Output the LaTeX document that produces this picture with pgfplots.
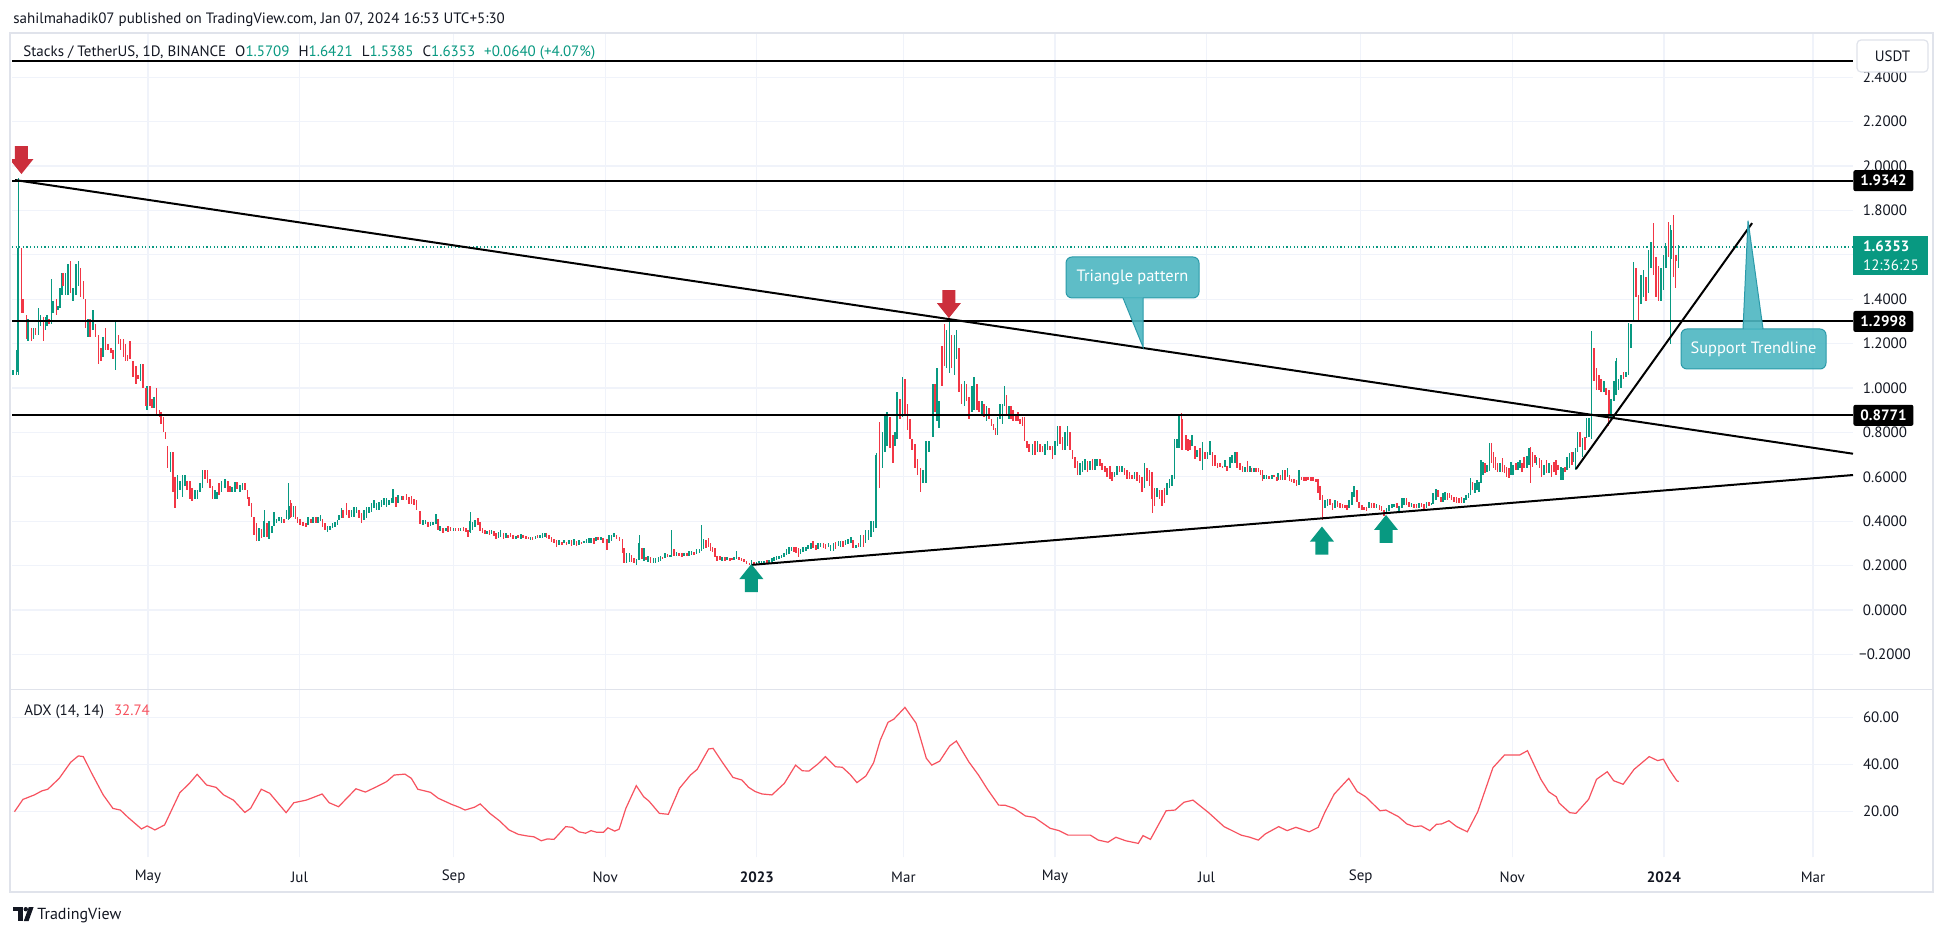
\documentclass[border=0pt]{standalone}
\usepackage{fontspec}
\setmainfont{PT Sans}
\usepackage{pgfplots}
\usepackage{pgfplotstable}
\pgfplotsset{compat=1.18}
\definecolor{tvgreen}{HTML}{089981}
\definecolor{tvred}{HTML}{F23645}
\definecolor{arrred}{HTML}{CC2F3C}
\definecolor{adxred}{HTML}{F7525F}
\definecolor{tvtext}{HTML}{131722}
\definecolor{gridc}{HTML}{F0F3FA}
\definecolor{framec}{HTML}{E0E3EB}
\definecolor{callfill}{HTML}{4DB6C2}
\definecolor{calldraw}{HTML}{2A9AA9}

\pgfplotstableread{
d o c
65.8 1.06 1.08
67.1 1.06 1.17
67.8 1.07 1.63
69.2 1.63 1.34
69.8 1.40 1.34
71.2 1.33 1.22
71.8 1.21 1.31
73.2 1.27 1.21
73.9 1.22 1.27
74.8 1.27 1.24
75.9 1.24 1.36
76.8 1.28 1.33
77.9 1.32 1.21
78.8 1.26 1.32
79.5 1.28 1.33
80.3 1.31 1.29
81.2 1.29 1.49
81.9 1.34 1.39
83.2 1.40 1.33
83.9 1.35 1.37
84.6 1.36 1.45
85.3 1.42 1.52
85.9 1.52 1.46
86.9 1.42 1.52
87.9 1.42 1.56
88.9 1.57 1.43
89.9 1.39 1.45
91.0 1.42 1.56
92.0 1.46 1.57
92.9 1.54 1.41
94.0 1.48 1.40
94.8 1.40 1.27
96.0 1.23 1.31
96.7 1.31 1.23
98.0 1.26 1.35
98.9 1.29 1.23
100.1 1.24 1.11
101.1 1.18 1.12
102.0 1.14 1.23
103.0 1.27 1.17
104.0 1.20 1.17
105.1 1.18 1.16
106.0 1.17 1.13
106.9 1.08 1.30
108.1 1.24 1.20
109.0 1.22 1.17
110.1 1.22 1.14
111.0 1.20 1.12
111.8 1.15 1.12
112.8 1.21 1.13
114.1 1.12 1.05
115.2 1.10 1.02
116.1 1.06 1.04
117.0 1.03 1.11
117.9 1.11 1.00
119.1 1.00 0.92
119.7 0.90 1.01
120.8 1.01 0.92
121.7 0.95 0.91
122.5 0.91 0.96
123.5 1.00 0.88
124.6 0.90 0.87
125.2 0.89 0.84
126.2 0.87 0.80
127.1 0.80 0.77
127.9 0.74 0.64
129.1 0.62 0.71
130.2 0.71 0.53
131.0 0.60 0.46
131.9 0.50 0.61
132.9 0.54 0.58
133.9 0.51 0.61
134.9 0.56 0.61
135.6 0.58 0.54
136.9 0.58 0.50
137.8 0.55 0.49
138.9 0.50 0.54
139.9 0.50 0.54
140.9 0.53 0.57
142.0 0.55 0.63
142.9 0.63 0.59
143.9 0.63 0.57
144.9 0.59 0.55
145.9 0.56 0.50
146.9 0.50 0.54
147.9 0.50 0.53
148.7 0.57 0.52
149.6 0.53 0.58
151.0 0.55 0.59
152.1 0.58 0.53
153.0 0.56 0.53
153.9 0.53 0.555
155.0 0.53 0.575
155.9 0.575 0.545
157.0 0.53 0.565
158.1 0.54 0.57
159.0 0.57 0.54
160.0 0.54 0.50
160.6 0.51 0.47
161.7 0.48 0.42
162.7 0.42 0.34
163.7 0.39 0.31
164.8 0.31 0.37
165.7 0.365 0.325
166.8 0.33 0.40
167.8 0.39 0.33
168.8 0.32 0.40
170.0 0.345 0.38
170.8 0.38 0.44
171.8 0.39 0.41
172.7 0.40 0.42
173.8 0.39 0.42
174.7 0.41 0.39
175.8 0.41 0.45
176.7 0.41 0.47
177.5 0.48 0.42
178.5 0.42 0.47
179.4 0.47 0.41
180.2 0.42 0.39
181.2 0.41 0.385
182.5 0.397 0.38
183.6 0.393 0.372
184.5 0.385 0.42
185.6 0.41 0.39
186.5 0.39 0.42
187.6 0.42 0.39
188.5 0.39 0.42
189.5 0.40 0.43
190.3 0.41 0.375
191.2 0.39 0.36
192.3 0.353 0.38
193.2 0.36 0.38
194.3 0.368 0.39
195.3 0.375 0.398
196.2 0.383 0.406
197.0 0.406 0.428
197.9 0.413 0.458
198.6 0.45 0.413
199.9 0.48 0.43
201.0 0.45 0.413
201.9 0.42 0.45
202.9 0.42 0.465
203.9 0.436 0.465
204.9 0.45 0.413
205.9 0.435 0.39
206.9 0.406 0.45
208.0 0.413 0.465
208.9 0.436 0.465
210.0 0.443 0.48
210.9 0.458 0.496
212.0 0.45 0.48
213.0 0.45 0.488
214.0 0.465 0.496
215.0 0.473 0.503
216.0 0.465 0.503
217.0 0.473 0.496
218.0 0.48 0.503
218.7 0.483 0.545
219.8 0.51 0.462
220.7 0.48 0.518
222.1 0.496 0.515
222.7 0.515 0.494
224.1 0.522 0.496
225.0 0.51 0.478
226.1 0.514 0.478
227.0 0.498 0.473
228.1 0.496 0.45
229.5 0.446 0.387
230.8 0.383 0.405
231.7 0.387 0.405
232.8 0.398 0.372
233.7 0.378 0.398
234.8 0.383 0.398
235.8 0.387 0.432
236.8 0.408 0.36
237.5 0.357 0.378
238.8 0.371 0.348
239.9 0.357 0.371
240.8 0.378 0.353
241.8 0.372 0.357
242.9 0.357 0.368
243.8 0.368 0.357
244.9 0.368 0.357
245.8 0.357 0.371
246.9 0.372 0.357
248.0 0.371 0.353
248.9 0.36 0.33
249.6 0.35 0.40
250.6 0.36 0.398
251.6 0.375 0.405
252.9 0.413 0.383
253.6 0.398 0.357
254.7 0.368 0.345
255.6 0.36 0.341
256.5 0.343 0.357
257.4 0.36 0.338
258.3 0.341 0.36
259.2 0.356 0.333
260.0 0.345 0.318
261.0 0.323 0.353
261.9 0.33 0.36
263.0 0.348 0.318
264.1 0.323 0.345
265.0 0.338 0.323
265.9 0.345 0.33
267.0 0.338 0.318
268.0 0.318 0.333
269.0 0.338 0.323
270.0 0.318 0.341
271.0 0.338 0.323
272.1 0.333 0.318
273.1 0.33 0.323
274.0 0.315 0.33
274.8 0.33 0.315
276.0 0.318 0.333
276.8 0.338 0.323
277.7 0.323 0.338
278.8 0.323 0.345
279.8 0.327 0.348
280.4 0.345 0.323
281.5 0.338 0.318
282.4 0.33 0.308
283.4 0.318 0.303
284.4 0.315 0.285
285.5 0.293 0.315
286.5 0.308 0.293
287.4 0.30 0.315
288.5 0.308 0.293
289.4 0.297 0.315
290.5 0.315 0.288
291.4 0.293 0.318
292.5 0.312 0.288
293.4 0.293 0.315
294.5 0.308 0.297
295.5 0.30 0.312
296.5 0.30 0.318
297.5 0.303 0.323
298.3 0.30 0.323
299.5 0.323 0.297
300.3 0.312 0.327
301.2 0.327 0.315
302.2 0.315 0.327
303.2 0.323 0.30
304.8 0.318 0.27
305.5 0.303 0.338
306.6 0.312 0.338
307.5 0.327 0.345
308.6 0.338 0.318
309.7 0.327 0.312
310.9 0.318 0.255
311.5 0.278 0.213
312.6 0.213 0.255
313.7 0.218 0.255
314.6 0.248 0.218
315.6 0.232 0.213
316.6 0.203 0.228
317.7 0.225 0.30
318.7 0.278 0.228
319.6 0.222 0.278
320.4 0.24 0.225
321.3 0.218 0.243
322.3 0.24 0.213
323.4 0.21 0.236
324.3 0.21 0.233
325.4 0.218 0.237
326.3 0.222 0.243
327.1 0.24 0.228
328.1 0.233 0.258
329.0 0.252 0.237
330.1 0.237 0.248
330.7 0.24 0.27
331.7 0.273 0.243
332.7 0.243 0.26
333.8 0.255 0.243
334.8 0.255 0.24
335.8 0.243 0.255
336.8 0.255 0.243
337.8 0.243 0.267
338.8 0.248 0.267
339.7 0.263 0.248
340.8 0.252 0.273
341.9 0.258 0.273
342.8 0.267 0.31
343.5 0.273 0.318
344.5 0.315 0.278
345.5 0.326 0.285
346.4 0.30 0.267
347.2 0.282 0.263
348.2 0.278 0.24
349.1 0.243 0.222
350.2 0.243 0.225
351.1 0.222 0.24
352.2 0.237 0.222
353.1 0.225 0.237
354.2 0.233 0.222
355.1 0.233 0.225
355.9 0.225 0.237
356.9 0.228 0.245
357.9 0.237 0.225
358.9 0.233 0.222
359.8 0.228 0.216
360.9 0.222 0.207
362.0 0.213 0.203
362.9 0.203 0.225
363.9 0.218 0.207
364.9 0.207 0.218
365.9 0.21 0.22
366.9 0.21 0.222
367.9 0.213 0.222
369.0 0.225 0.213
369.9 0.213 0.225
371.0 0.218 0.233
371.9 0.222 0.237
373.0 0.225 0.243
373.9 0.228 0.243
375.0 0.233 0.248
375.9 0.237 0.255
377.0 0.248 0.273
378.0 0.252 0.282
379.0 0.267 0.285
380.0 0.282 0.263
380.8 0.282 0.258
381.7 0.278 0.24
382.6 0.252 0.273
383.7 0.263 0.282
384.7 0.267 0.285
385.7 0.273 0.293
386.7 0.273 0.30
387.7 0.312 0.278
388.7 0.293 0.27
389.7 0.273 0.30
390.7 0.282 0.303
391.8 0.30 0.278
392.7 0.297 0.273
393.8 0.285 0.303
394.7 0.267 0.293
395.8 0.267 0.30
396.7 0.308 0.273
397.8 0.288 0.312
398.7 0.285 0.312
399.8 0.312 0.285
400.7 0.293 0.315
401.8 0.296 0.318
402.8 0.30 0.33
403.8 0.315 0.28
404.8 0.278 0.293
405.9 0.30 0.282
406.8 0.285 0.338
407.9 0.338 0.285
408.8 0.30 0.36
409.9 0.315 0.36
410.9 0.33 0.40
411.9 0.35 0.40
413.0 0.37 0.70
414.3 0.84 0.56
415.5 0.64 0.80
416.6 0.71 0.88
417.5 0.74 0.89
418.6 0.87 0.73
419.7 0.79 0.66
420.6 0.74 0.80
421.3 0.77 0.98
422.6 0.95 0.86
423.7 0.87 1.05
424.6 1.04 0.88
425.6 0.93 0.81
426.6 0.86 0.77
427.4 0.77 0.72
428.7 0.75 0.64
429.7 0.68 0.61
430.8 0.64 0.53
431.9 0.57 0.63
433.0 0.57 0.76
434.3 0.71 0.76
435.8 0.78 1.02
436.7 1.02 0.89
437.6 0.85 1.09
438.4 0.82 0.94
439.5 1.19 1.01
440.5 1.29 1.10
441.4 1.09 1.26
442.5 1.10 1.25
443.4 1.24 1.09
444.5 1.06 1.24
445.4 1.13 1.26
446.4 1.18 0.98
447.4 1.02 0.93
448.5 0.92 1.03
449.4 1.02 0.94
450.4 0.96 0.86
451.5 0.89 1.01
452.4 0.90 1.05
453.5 1.02 0.90
454.5 0.94 0.89
455.5 0.88 0.94
456.4 0.93 0.87
457.5 0.85 0.92
458.4 0.91 0.86
459.5 0.86 0.83
460.2 0.84 0.81
461.1 0.82 0.79
461.9 0.79 0.87
462.9 0.86 0.93
463.8 0.84 0.93
464.6 0.92 1.01
465.5 0.97 0.88
466.5 0.86 0.92
467.3 0.92 0.86
468.2 0.90 0.85
469.2 0.88 0.85
470.0 0.89 0.85
470.9 0.86 0.84
471.9 0.87 0.83
472.7 0.87 0.76
473.6 0.76 0.73
474.5 0.75 0.71
476 0.70 0.75
477 0.76 0.70
478 0.71 0.76
479 0.75 0.71
480 0.74 0.71
481 0.70 0.75
482 0.72 0.76
483 0.74 0.72
484 0.74 0.68
485 0.70 0.76
486 0.74 0.83
487 0.83 0.75
488 0.78 0.72
489 0.72 0.80
490 0.74 0.83
491 0.80 0.72
492 0.72 0.68
493 0.69 0.64
494 0.67 0.61
495 0.61 0.66
496 0.62 0.67
497 0.63 0.68
498 0.67 0.62
499 0.63 0.67
500 0.68 0.63
501 0.63 0.68
502 0.65 0.68
503 0.68 0.65
504 0.66 0.63
505 0.65 0.62
506 0.64 0.60
507 0.65 0.59
508 0.62 0.58
509 0.60 0.62
510 0.61 0.65
511 0.65 0.62
512 0.62 0.65
513 0.64 0.61
514 0.63 0.59
515 0.62 0.59
516 0.61 0.59
517 0.59 0.62
518 0.62 0.58
519 0.61 0.57
520 0.60 0.53
521 0.55 0.66
522 0.64 0.58
523 0.63 0.56
524 0.62 0.50
525 0.55 0.47
526 0.51 0.55
527 0.54 0.50
528 0.54 0.47
529 0.55 0.48
530 0.52 0.57
531 0.55 0.59
532 0.56 0.61
533 0.59 0.77
534 0.73 0.77
535 0.73 0.88
536 0.86 0.72
537.6 0.79 0.72
538.6 0.77 0.715
539.3 0.765 0.72
540.2 0.74 0.79
541.3 0.74 0.68
542.2 0.69 0.72
543.3 0.73 0.67
544.3 0.67 0.74
545.3 0.71 0.68
546.3 0.68 0.71
547.3 0.70 0.76
548.4 0.71 0.65
549.4 0.70 0.65
550.4 0.66 0.64
551.4 0.66 0.645
552.4 0.65 0.64
553.4 0.645 0.675
554.3 0.65 0.625
555.4 0.64 0.69
556.3 0.66 0.70
557.4 0.66 0.71
558.3 0.71 0.64
559.4 0.66 0.63
560.4 0.65 0.62
561.4 0.62 0.645
562.4 0.67 0.62
563.4 0.62 0.65
564.1 0.64 0.62
565.1 0.62 0.64
565.9 0.64 0.62
566.8 0.64 0.62
567.7 0.63 0.61
568.5 0.63 0.58
569.2 0.59 0.61
570.1 0.59 0.61
571.1 0.603 0.588
572.2 0.59 0.61
573.1 0.61 0.60
574.2 0.60 0.58
574.8 0.586 0.615
575.8 0.61 0.586
576.5 0.586 0.63
577.5 0.63 0.586
578.5 0.60 0.638
579.3 0.61 0.58
580.2 0.588 0.578
581.1 0.588 0.57
582.2 0.586 0.56
583.2 0.565 0.63
584.2 0.60 0.586
585.2 0.60 0.583
586.0 0.60 0.583
586.9 0.60 0.586
587.9 0.60 0.583
588.9 0.60 0.583
589.9 0.59 0.578
590.7 0.59 0.525
591.6 0.56 0.495
592.6 0.52 0.46
593.6 0.458 0.495
594.6 0.47 0.50
595.6 0.50 0.474
596.7 0.48 0.45
597.6 0.458 0.495
598.6 0.49 0.466
599.7 0.48 0.458
600.6 0.478 0.458
601.7 0.473 0.458
602.6 0.473 0.45
603.4 0.458 0.495
604.4 0.473 0.533
605.3 0.51 0.558
606.4 0.54 0.488
607.3 0.488 0.458
608.4 0.473 0.45
609.3 0.466 0.45
610.4 0.466 0.447
611.3 0.458 0.488
612.4 0.48 0.458
613.3 0.48 0.458
614.4 0.458 0.478
615.5 0.473 0.45
616.4 0.468 0.447
617.4 0.45 0.423
618.4 0.436 0.458
619.4 0.448 0.473
620.5 0.458 0.478
621.4 0.463 0.478
622.5 0.48 0.458
623.4 0.448 0.468
624.5 0.458 0.503
625.4 0.473 0.503
626.5 0.503 0.473
627.4 0.488 0.466
628.5 0.466 0.48
629.4 0.478 0.458
630.5 0.478 0.458
631.5 0.458 0.48
632.5 0.483 0.463
633.5 0.478 0.453
634.5 0.458 0.488
635.5 0.488 0.468
636.5 0.473 0.483
637.2 0.478 0.526
638.2 0.495 0.544
639.2 0.54 0.51
640.2 0.51 0.488
641.0 0.488 0.526
641.9 0.495 0.53
643.0 0.526 0.495
643.7 0.526 0.503
644.6 0.518 0.495
645.5 0.51 0.488
646.6 0.51 0.483
647.5 0.503 0.483
648.6 0.508 0.48
649.6 0.483 0.503
650.4 0.495 0.518
651.3 0.503 0.526
652.2 0.518 0.593
653.0 0.578 0.54
654.0 0.526 0.571
654.9 0.54 0.586
655.7 0.533 0.578
656.4 0.571 0.676
657.3 0.608 0.668
658.0 0.66 0.616
658.9 0.623 0.653
659.8 0.628 0.751
660.7 0.751 0.661
661.4 0.713 0.638
662.3 0.69 0.631
663.1 0.66 0.623
664.0 0.623 0.664
665.0 0.683 0.623
665.8 0.653 0.616
666.7 0.646 0.601
667.7 0.638 0.593
668.5 0.608 0.668
669.4 0.608 0.653
670.4 0.66 0.631
671.2 0.631 0.668
672.1 0.638 0.676
673.0 0.66 0.623
673.8 0.69 0.638
674.8 0.638 0.694
675.7 0.653 0.728
676.4 0.70 0.60
677.2 0.71 0.646
678.1 0.698 0.66
678.8 0.653 0.69
679.9 0.683 0.638
680.8 0.676 0.601
681.8 0.608 0.653
682.8 0.676 0.616
683.8 0.616 0.66
684.8 0.653 0.601
685.8 0.668 0.623
686.6 0.676 0.608
687.5 0.653 0.631
688.5 0.586 0.646
689.3 0.586 0.638
690.2 0.646 0.623
691.1 0.631 0.691
692.0 0.638 0.706
692.9 0.713 0.653
693.6 0.668 0.713
694.5 0.63 0.728
695.3 0.713 0.803
696.2 0.803 0.736
697.2 0.691 0.773
698.2 0.781 0.721
698.9 0.773 0.863
699.9 0.781 0.863
700.8 0.80 1.24
701.8 1.18 1.03
702.8 1.09 0.99
703.8 1.06 0.99
704.8 1.04 0.98
705.8 0.98 1.03
706.8 1.00 0.97
707.8 0.99 0.88
708.8 0.87 0.95
709.8 0.94 1.03
710.8 0.97 1.12
711.8 0.99 1.04
712.8 1.00 1.06
713.8 1.07 1.04
714.8 1.05 1.07
715.8 1.06 1.28
716.8 1.18 1.29
717.8 1.30 1.56
718.8 1.54 1.41
719.8 1.42 1.32
720.8 1.38 1.51
721.8 1.41 1.53
722.8 1.50 1.39
723.8 1.43 1.62
724.8 1.54 1.66
725.8 1.72 1.51
726.8 1.59 1.41
727.8 1.55 1.39
728.8 1.39 1.54
729.8 1.44 1.60
730.8 1.54 1.64
731.8 1.73 1.59
732.8 1.58 1.71
733.8 1.72 1.60
734.8 1.60 1.571
735.8 1.5709 1.6353
}\bodies

\pgfplotstableread{
d h l u
67.8 1.945 1.059 1
166.8 0.451 0.327 1
176.7 0.571 0.406 1
177.5 0.496 0.413 0
249.6 0.443 0.348 1
317.7 0.338 0.225 1
330.7 0.36 0.24 1
342.8 0.383 0.267 1
356.9 0.267 0.228 1
413.0 0.706 0.37 1
414.3 0.848 0.548 0
442.5 1.314 1.066 1
524 0.62 0.438 0
535 0.878 0.73 1
536 0.886 0.72 0
544.3 0.758 0.631 1
592.6 0.52 0.405 0
676.4 0.736 0.571 0
700.8 1.257 0.77 1
707.8 0.99 0.83 0
710.8 1.134 0.97 1
715.8 1.292 1.06 1
717.8 1.569 1.30 1
719.8 1.42 1.307 0
725.8 1.745 1.51 0
730.8 1.652 1.54 1
731.8 1.749 1.59 0
732.8 1.734 1.20 1
733.8 1.779 1.50 0
734.8 1.60 1.449 0
735.8 1.6421 1.5385 1
}\wicks

\pgfplotstableread{
d v
66.3 20
69.7 25.2
74.3 27.1
77.3 28.8
79.7 29.5
84.3 34.1
88.9 40.9
92.0 43.6
94.0 43.3
97.4 36.2
102.0 27.1
105.9 21.4
108.9 20.7
112.0 17.6
117.4 12.7
119.7 14.0
122.8 12.3
126.7 14.4
132.8 28.0
136.7 32.0
139.8 35.8
143.6 31.3
147.4 30.3
150.5 27.1
154.4 24.9
159.0 19.7
161.3 21.4
165.6 29.5
169.0 27.8
175.6 19.6
178.7 23.8
183.7 24.9
186.7 26.1
190.1 27.5
192.9 23.8
196.7 22.1
203.7 29.7
207.5 28.3
212.1 30.6
216.0 32.7
219.1 35.5
223.4 35.9
226.0 34.1
228.6 29.5
233.7 28.2
236.8 25.7
242.2 23.1
245.2 21.9
247.6 20.7
251.4 21.9
253.7 23.3
257.6 19.3
261.4 16.2
265.3 12.3
269.1 10.4
272.9 9.7
275.3 9.4
278.3 7.7
280.7 8.5
283.4 8.3
288.1 13.7
290.7 13.4
293.4 11.5
296.1 10.9
298.3 12.0
300.6 11.3
303.3 11.3
305.1 13.2
307.8 11.8
309.6 12.6
312.3 21.4
316.5 31.0
319.5 26.3
321.6 24.5
325.8 19.3
329.4 18.9
333.9 29.9
338.3 35.5
341.0 37.9
345.6 46.5
347.4 46.8
351.0 41.1
355.4 34.5
359.0 33.4
361.7 30.3
364.4 28.5
367.1 27.5
371.1 27.1
376.1 32.0
380.6 39.7
383.3 37.3
386.0 37.2
389.6 40.2
392.6 43.3
396.7 39.0
399.4 38.8
402.5 35.8
405.3 32.3
408.9 35.1
412.0 40.7
414.7 50.3
417.8 57.8
420.1 59.1
424.6 64.1
429.1 57.4
433.2 42.6
435.4 39.7
438.6 41.4
442.6 47.8
445.3 49.9
450.3 41.1
454.2 35.5
457.8 29.5
462.3 22.8
465.0 22.7
468.6 21.4
473.1 18.2
476.7 17.6
483.0 13.0
486.6 12.0
490.2 10.1
499.2 10.1
502.4 8.0
506.3 7.1
509.5 9.2
513.5 7.7
518.5 6.6
520.4 9.9
523.4 8.3
529.7 20.4
533.3 20.7
536.9 24.0
540.5 24.9
546.8 19.6
553.0 13.7
559.9 10.1
563.4 9.2
566.8 8.0
569.6 10.6
575.0 13.7
578.4 12.0
581.9 13.4
587.3 11.5
590.9 13.4
593.5 19.6
597.3 27.4
603.2 34.1
606.6 28.5
610.0 26.3
615.8 20.4
618.1 20.7
623.2 17.9
626.6 14.8
629.7 13.7
632.4 14.0
635.8 12.0
638.5 14.7
640.5 14.8
643.5 16.2
646.6 13.7
650.9 11.5
655.1 20.0
661.2 38.6
665.9 44.0
672.0 44.0
675.1 45.8
680.5 33.7
683.6 28.5
686.7 26.3
687.9 23.6
692.1 19.6
694.6 19.3
696.2 21.1
699.7 25.2
702.9 33.7
707.2 36.9
709.8 33.1
713.6 31.6
718.0 37.9
724.1 43.3
727.5 41.6
729.8 42.2
732.1 37.9
735.2 33.1
736.0 32.74
}\adx

\begin{document}
\begin{tikzpicture}[font=\fontsize{7.5}{9}\selectfont]
\useasboundingbox (0pt,0pt) rectangle (973pt,468.5pt);
\fill[white] (0pt,0pt) rectangle (973pt,468.5pt);

% ---------------- main price pane ----------------
\begin{axis}[
  name=main, at={(6pt,124pt)}, anchor=south west,
  scale only axis, width=920.5pt, height=327.5pt,
  xmin=65.3, xmax=806.1, ymin=-0.356, ymax=2.595,
  axis line style={draw=none}, major tick length=0pt,
  xtick={120,181,243,304,365,424,485,546,608,669,730,790},
  xticklabel={\mbox{}},
  ytick={-0.2,0,0.2,0.4,0.6,0.8,1.0,1.2,1.4,1.6,1.8,2.0,2.2,2.4},
  yticklabels={−0.2000,0.0000,0.2000,0.4000,0.6000,0.8000,1.0000,1.2000,1.4000,{},1.8000,2.0000,2.2000,2.4000},
  yticklabel pos=right,
  yticklabel style={anchor=center, xshift=16pt},
  ticklabel style={font=\fontsize{7.5}{9}\selectfont, text=tvtext},
  grid=major, major grid style={gridc, line width=0.6pt},
  clip=true]

% dotted last-price line
\addplot[tvgreen, line width=0.6pt, dash pattern=on 0.6pt off 1.2pt] coordinates {(65.3,1.6353) (806.1,1.6353)};

% wicks
\addplot[draw=none, restrict expr to domain={\thisrow{u}}{0.5:1.5},
  error bars/.cd, y dir=both, y explicit, error mark=none,
  error bar style={draw=tvgreen, line width=0.4pt}]
  table[x=d, y expr={(\thisrow{h}+\thisrow{l})/2}, y error expr={(\thisrow{h}-\thisrow{l})/2}] {\wicks};
\addplot[draw=none, restrict expr to domain={\thisrow{u}}{-0.5:0.5},
  error bars/.cd, y dir=both, y explicit, error mark=none,
  error bar style={draw=tvred, line width=0.4pt}]
  table[x=d, y expr={(\thisrow{h}+\thisrow{l})/2}, y error expr={(\thisrow{h}-\thisrow{l})/2}] {\wicks};

% bodies
\addplot[draw=none, restrict expr to domain={\thisrow{c}-\thisrow{o}}{0:10},
  error bars/.cd, y dir=both, y explicit, error mark=none,
  error bar style={draw=tvgreen, line width=0.8pt}]
  table[x=d, y expr={(\thisrow{o}+\thisrow{c})/2}, y error expr={abs(\thisrow{c}-\thisrow{o})/2}] {\bodies};
\addplot[draw=none, restrict expr to domain={\thisrow{c}-\thisrow{o}}{-10:-0.00001},
  error bars/.cd, y dir=both, y explicit, error mark=none,
  error bar style={draw=tvred, line width=0.8pt}]
  table[x=d, y expr={(\thisrow{o}+\thisrow{c})/2}, y error expr={abs(\thisrow{c}-\thisrow{o})/2}] {\bodies};

% horizontal levels
\addplot[black, line width=1pt] coordinates {(65.3,2.473) (806.1,2.473)};
\addplot[black, line width=1pt] coordinates {(65.3,1.9342) (806.1,1.9342)};
\addplot[black, line width=1pt] coordinates {(65.3,1.2998) (806.1,1.2998)};
\addplot[black, line width=1pt] coordinates {(65.3,0.8771) (806.1,0.8771)};
% triangle lines
\addplot[black, line width=1pt] coordinates {(66.5,1.937) (806.1,0.704)};
\addplot[black, line width=1pt] coordinates {(362.7,0.203) (806.1,0.608)};
% support trendline
\addplot[black, line width=1pt] coordinates {(694.6,0.635) (765.5,1.743)};

% arrows
\fill[arrred] (axis cs:69.1,1.964) -- ++(-6pt,7.5pt) -- ++(2.75pt,0pt) -- ++(0pt,6.5pt) -- ++(6.5pt,0pt) -- ++(0pt,-6.5pt) -- ++(2.75pt,0pt) -- cycle;
\fill[arrred] (axis cs:442.3,1.315) -- ++(-6pt,7.5pt) -- ++(2.75pt,0pt) -- ++(0pt,6.5pt) -- ++(6.5pt,0pt) -- ++(0pt,-6.5pt) -- ++(2.75pt,0pt) -- cycle;
\fill[tvgreen] (axis cs:362.8,0.207) -- ++(-6pt,-7.5pt) -- ++(2.75pt,0pt) -- ++(0pt,-6.5pt) -- ++(6.5pt,0pt) -- ++(0pt,6.5pt) -- ++(2.75pt,0pt) -- cycle;
\fill[tvgreen] (axis cs:592.4,0.376) -- ++(-6pt,-7.5pt) -- ++(2.75pt,0pt) -- ++(0pt,-6.5pt) -- ++(6.5pt,0pt) -- ++(0pt,6.5pt) -- ++(2.75pt,0pt) -- cycle;
\fill[tvgreen] (axis cs:618.2,0.428) -- ++(-6pt,-7.5pt) -- ++(2.75pt,0pt) -- ++(0pt,-6.5pt) -- ++(6.5pt,0pt) -- ++(0pt,6.5pt) -- ++(2.75pt,0pt) -- cycle;

\coordinate (b1) at (axis cs:806.1,1.9342);
\coordinate (b2) at (axis cs:806.1,1.2998);
\coordinate (b3) at (axis cs:806.1,0.8771);
\coordinate (g1) at (axis cs:806.1,1.597);
\end{axis}

% ---------------- ADX pane ----------------
\begin{axis}[
  name=adxax, at={(6pt,40pt)}, anchor=south west,
  scale only axis, width=920.5pt, height=83.5pt,
  xmin=65.3, xmax=806.1, ymin=0.85, ymax=71.46,
  axis line style={draw=none}, major tick length=0pt,
  xtick={120,181,243,304,365,424,485,546,608,669,730,790},
  xticklabels={May,Jul,Sep,Nov,\textbf{2023},Mar,May,Jul,Sep,Nov,\textbf{2024},Mar},
  xticklabel style={anchor=center, yshift=-10pt},
  ytick={20,40,60}, yticklabels={20.00,40.00,60.00},
  yticklabel pos=right,
  yticklabel style={anchor=center, xshift=14pt},
  ticklabel style={font=\fontsize{7.5}{9}\selectfont, text=tvtext},
  grid=major, major grid style={gridc, line width=0.6pt},
  clip=true]
\addplot[adxred, line width=0.6pt] table[x=d, y=v] {\adx};
\end{axis}

% frame and separators
\draw[framec, line width=0.75pt] (5pt,22.5pt) rectangle (966.5pt,452pt);
\draw[framec, line width=0.75pt] (5pt,123.75pt) -- (966.5pt,123.75pt);

% price labels on the scale
\node[fill=black, text=white, anchor=west, minimum width=30pt, minimum height=10.5pt, inner sep=0pt, rounded corners=1pt, font=\fontsize{7.5}{9}\selectfont\bfseries] at (b1) {1.9342};
\node[fill=black, text=white, anchor=west, minimum width=30pt, minimum height=10.5pt, inner sep=0pt, rounded corners=1pt, font=\fontsize{7.5}{9}\selectfont\bfseries] at (b2) {1.2998};
\node[fill=black, text=white, anchor=west, minimum width=30pt, minimum height=10.5pt, inner sep=0pt, rounded corners=1pt, font=\fontsize{7.5}{9}\selectfont\bfseries] at (b3) {0.8771};
\node[fill=tvgreen, text=white, anchor=west, minimum width=37.5pt, minimum height=19.5pt, inner xsep=4.5pt, inner ysep=1pt, align=left, font=\fontsize{7.5}{9.5}\selectfont] at (g1) {\textbf{1.6353}\\12:36:25};
\node[draw=framec, fill=white, rounded corners=2pt, line width=0.6pt, minimum width=35.5pt, minimum height=16pt, inner sep=0pt, text=tvtext] at (946.25pt,440.5pt) {USDT};

% callouts
\filldraw[fill=callfill, draw=calldraw, line width=0.5pt, fill opacity=0.9, rounded corners=3pt] (533pt,319.5pt) rectangle (599.5pt,340pt);
\fill[callfill, fill opacity=0.9] (561.5pt,319.9pt) -- (571.5pt,295pt) -- (571.5pt,319.9pt) -- cycle;
\draw[calldraw, line width=0.5pt] (561.5pt,319.5pt) -- (571.5pt,295pt) -- (571.5pt,319.5pt);
\node[text=white, font=\fontsize{8.2}{9.5}\selectfont] at (566.25pt,329.75pt) {Triangle pattern};

\filldraw[fill=callfill, draw=calldraw, line width=0.5pt, fill opacity=0.9, rounded corners=3pt] (840.5pt,284pt) rectangle (913pt,304pt);
\fill[callfill, fill opacity=0.9] (871.5pt,303.6pt) -- (874pt,358.2pt) -- (881.5pt,303.6pt) -- cycle;
\draw[calldraw, line width=0.5pt] (871.5pt,304pt) -- (874pt,358.2pt) -- (881.5pt,304pt);
\node[text=white, font=\fontsize{8.2}{9.5}\selectfont] at (876.75pt,294pt) {Support Trendline};

% header texts
\node[anchor=west, inner sep=0pt, text=tvtext] at (6.5pt,458.5pt) {sahilmahadik07 published on TradingView.com, Jan 07, 2024 16:53 UTC+5:30};
\node[anchor=west, inner sep=0pt, text=tvtext] at (11.5pt,442pt) {Stacks / TetherUS, 1D, BINANCE\hspace{4.5pt}O\textcolor{tvgreen}{1.5709}\hspace{4.5pt}H\textcolor{tvgreen}{1.6421}\hspace{4.5pt}L\textcolor{tvgreen}{1.5385}\hspace{4.5pt}C\textcolor{tvgreen}{1.6353}\hspace{4.5pt}\textcolor{tvgreen}{+0.0640 (+4.07\%)}};
\node[anchor=west, inner sep=0pt, text=tvtext] at (12pt,112.6pt) {ADX (14, 14)\hspace{5pt}\textcolor{adxred}{32.74}};

% footer logo
\fill[tvtext] (6.5pt,15pt) rectangle (11.3pt,13pt);
\fill[tvtext] (9.2pt,13pt) rectangle (11.3pt,8pt);
\fill[tvtext] (12.9pt,13.9pt) circle (1.1pt);
\fill[tvtext] (14.4pt,15pt) -- (16.8pt,15pt) -- (14.3pt,8pt) -- (11.9pt,8pt) -- cycle;
\node[anchor=west, inner sep=0pt, text=tvtext, font=\fontsize{8}{9}\selectfont] at (18.5pt,10.8pt) {TradingView};
\end{tikzpicture}
\end{document}
